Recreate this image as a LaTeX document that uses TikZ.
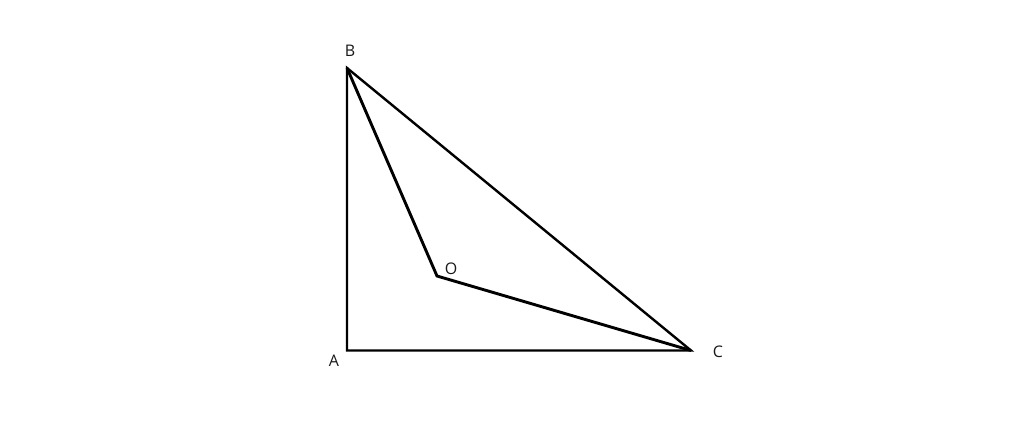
\documentclass[tikz,border=0pt]{standalone}
\usepackage{fontspec}
\setmainfont{Open Sans}
\begin{document}
\begin{tikzpicture}[x=1pt,y=-1pt,
  edge/.style={line width=2.4pt,line join=miter,black},
  edgeb/.style={line width=2.9pt,line join=miter,black},
  lbl/.style={font=\fontsize{16}{19}\selectfont,text=black!90,inner sep=0pt}]
\useasboundingbox[fill=white] (0,0) rectangle (1024,440);
\coordinate (A) at (347,350.5);
\coordinate (B) at (347,68);
\coordinate (C) at (691,350.5);
\coordinate (O) at (437,276);
\draw[edge] (B) -- (A) -- (C) -- cycle;
\draw[edgeb] (B) -- (O) -- (C);
\node[lbl] (lA) at (334,361) {A};
\node[lbl] (lB) at (350,51) {B};
\node[lbl] (lC) at (718,352) {C};
\node[lbl] (lO) at (451,269) {O};
\end{tikzpicture}
\end{document}
